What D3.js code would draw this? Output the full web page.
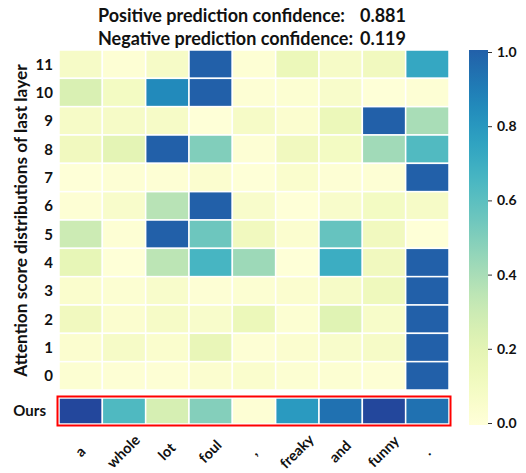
<!DOCTYPE html>
<meta charset="utf-8">
<script src="https://d3js.org/d3.v7.min.js"></script>
<style>
  body { margin: 0; background: #fff; }
  text { font-family: Lato, "Open Sans", sans-serif; font-weight: bold; fill: #111; }
</style>
<div id="chart"></div>
<script>
// tokens along the x axis
var tokens = ["a", "whole", "lot", "foul", ",", "freaky", "and", "funny", "."];
// layer labels, top to bottom
var layers = ["11", "10", "9", "8", "7", "6", "5", "4", "3", "2", "1", "0"];

// attention per layer (same order as layers)
var layer11 = [0.08, 0.02, 0.08, 1.00, 0.02, 0.15, 0.08, 0.12, 0.73];
var layer10 = [0.25, 0.10, 0.85, 1.00, 0.02, 0.03, 0.06, 0.01, 0.02];
var layer9  = [0.08, 0.08, 0.08, 0.01, 0.08, 0.04, 0.15, 1.00, 0.40];
var layer8  = [0.12, 0.20, 1.00, 0.50, 0.02, 0.12, 0.10, 0.42, 0.63];
var layer7  = [0.01, 0.02, 0.02, 0.04, 0.01, 0.05, 0.02, 0.02, 1.00];
var layer6  = [0.02, 0.06, 0.36, 1.00, 0.06, 0.01, 0.06, 0.10, 0.08];
var layer5  = [0.30, 0.02, 1.00, 0.55, 0.12, 0.04, 0.57, 0.12, 0.01];
var layer4  = [0.18, 0.01, 0.35, 0.66, 0.43, 0.01, 0.70, 0.12, 1.00];
var layer3  = [0.05, 0.03, 0.06, 0.02, 0.03, 0.04, 0.08, 0.13, 1.00];
var layer2  = [0.12, 0.04, 0.08, 0.06, 0.15, 0.03, 0.22, 0.07, 1.00];
var layer1  = [0.04, 0.08, 0.05, 0.17, 0.02, 0.04, 0.06, 0.08, 1.00];
var layer0  = [0.03, 0.02, 0.02, 0.04, 0.05, 0.03, 0.03, 0.02, 1.00];
var attention = [layer11, layer10, layer9, layer8, layer7, layer6, layer5, layer4, layer3, layer2, layer1, layer0];

// our method's row
var ours = [1.00, 0.58, 0.24, 0.45, 0.02, 0.72, 0.86, 1.00, 0.86];

var colorTicks = [0, 0.2, 0.4, 0.6, 0.8, 1.0];
var posConf = "0.881", negConf = "0.119";

var W = 526, H = 473;
var svg = d3.select("#chart").append("svg").attr("width", W).attr("height", H);

var x = d3.scaleBand().domain(tokens).range([59, 449]);
var y = d3.scaleBand().domain(layers).range([50, 390]);

// colormap: YlGnBu truncated
var color = function(v) { return d3.interpolateYlGnBu(Math.max(0, Math.min(1, v)) * 0.75); };
var colorOurs = function(v) { return d3.interpolateYlGnBu(Math.max(0, Math.min(1, v)) * 0.82); };

// title
var title = svg.append("g").style("font-size", "18px");
title.append("text").attr("x", 98).attr("y", 22).text("Positive prediction confidence:");
title.append("text").attr("x", 406).attr("y", 22).attr("text-anchor", "end").text(posConf);
title.append("text").attr("x", 98).attr("y", 45).text("Negative prediction confidence:");
title.append("text").attr("x", 406).attr("y", 45).attr("text-anchor", "end").text(negConf);

// heatmap
var cells = [];
attention.forEach(function(row, i) {
  row.forEach(function(v, j) { cells.push({layer: layers[i], token: tokens[j], v: v}); });
});
svg.append("g").selectAll("rect").data(cells).enter().append("rect")
  .attr("x", function(d) { return x(d.token); })
  .attr("y", function(d) { return y(d.layer); })
  .attr("width", x.bandwidth())
  .attr("height", y.bandwidth())
  .attr("fill", function(d) { return color(d.v); })
  .attr("stroke", "#fff")
  .attr("stroke-width", 1.5);

// row labels
svg.append("g").selectAll("text").data(layers).enter().append("text")
  .attr("x", 53)
  .attr("y", function(d) { return y(d) + y.bandwidth() / 2; })
  .attr("dy", "0.36em")
  .attr("text-anchor", "end")
  .style("font-size", "15px")
  .text(function(d) { return d; });

// y title
svg.append("text")
  .attr("transform", "translate(27," + (55 + 386) / 2 + ") rotate(-90)")
  .attr("text-anchor", "middle")
  .style("font-size", "17.3px")
  .text("Attention score distributions of last layer");

// ours row
var oursTop = 398, oursH = 26;
svg.append("g").selectAll("rect").data(ours).enter().append("rect")
  .attr("x", function(d, j) { return x(tokens[j]); })
  .attr("y", oursTop)
  .attr("width", x.bandwidth())
  .attr("height", oursH)
  .attr("fill", function(d) { return colorOurs(d); })
  .attr("stroke", "#fff")
  .attr("stroke-width", 1.5);
svg.append("rect")
  .attr("x", 57.5).attr("y", 396.5)
  .attr("width", 393).attr("height", 29)
  .attr("fill", "none")
  .attr("stroke", "#f00")
  .attr("stroke-width", 2);
svg.append("text")
  .attr("x", 46).attr("y", oursTop + oursH / 2).attr("dy", "0.36em")
  .attr("text-anchor", "end")
  .style("font-size", "15px")
  .text("Ours");

// x labels, centred on each column and turned 45 degrees
var labelY = 452;
svg.append("g").selectAll("text").data(tokens).enter().append("text")
  .attr("text-anchor", "middle")
  .attr("x", function(d) { return x(d) + x.bandwidth() / 2; })
  .attr("y", labelY)
  .attr("dy", "0.3em")
  .attr("transform", function(d) {
    return "rotate(-45 " + (x(d) + x.bandwidth() / 2) + " " + labelY + ")";
  })
  .style("font-size", "14.5px")
  .text(function(d) { return d; });

// colorbar
var cb = d3.scaleLinear().domain([0, 1]).range([423, 52]);
var defs = svg.append("defs");
var grad = defs.append("linearGradient").attr("id", "cbgrad")
  .attr("x1", 0).attr("y1", 1).attr("x2", 0).attr("y2", 0);
d3.range(0, 1.0001, 0.05).forEach(function(t) {
  grad.append("stop").attr("offset", t).attr("stop-color", color(t));
});
svg.append("rect")
  .attr("x", 469).attr("y", 50).attr("width", 19).attr("height", 375)
  .attr("fill", "url(#cbgrad)");
var cbAxis = svg.append("g")
  .attr("transform", "translate(488,0)")
  .call(d3.axisRight(cb).tickValues(colorTicks).tickFormat(d3.format(".1f")).tickSize(4).tickPadding(5));
cbAxis.select(".domain").remove();
cbAxis.selectAll("line").attr("stroke", "#333");
cbAxis.selectAll("text").style("font-size", "14px").style("font-family", "Lato, sans-serif").style("font-weight", "bold").attr("fill", "#111");
</script>
